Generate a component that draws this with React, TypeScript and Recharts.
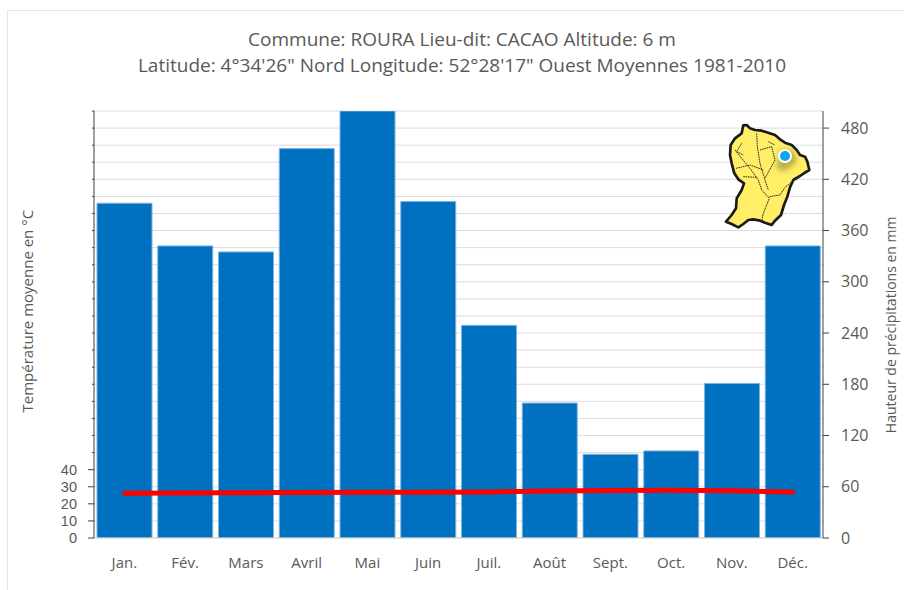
import {
  Bar,
  CartesianGrid,
  ComposedChart,
  Line,
  XAxis,
  YAxis,
} from "recharts";

const mois = ["Jan.", "Fév.", "Mars", "Avril", "Mai", "Juin", "Juil.", "Août", "Sept.", "Oct.", "Nov.", "Déc."];
const precipitations = [392, 342, 335, 456, 500, 394, 249, 158, 98, 102, 181, 342];
const temperatures = [26.2, 26.4, 26.5, 26.7, 26.8, 26.8, 27, 27.5, 27.8, 27.9, 27.6, 26.9];
const ticksTemp = [0, 10, 20, 30, 40, 50, 60, 70, 80, 90, 100, 110, 120, 130, 140, 150, 160, 170, 180, 190, 200, 210, 220, 230, 240, 250];
const ticksPrecip = [0, 60, 120, 180, 240, 300, 360, 420, 480];

const data = mois.map((m, i) => ({
  mois: m,
  precip: precipitations[i],
  temp: temperatures[i],
}));

const FONT = "'Open Sans', sans-serif";
const GRIS = "#595959";

// carte de la Guyane (coordonnees du crop x3)
const contour =
  "M130 76 L140 75 L150 85 L165 90 L185 92 L200 97 L225 105 L240 118 L255 128 L275 135 L290 150 L300 165 L315 170 L322 185 L328 210 L315 218 L300 228 L280 240 L270 262 L262 290 L252 315 L243 345 L225 362 L215 375 L195 368 L180 362 L160 358 L145 360 L130 372 L115 382 L95 372 L78 365 L95 345 L108 325 L110 295 L125 270 L132 250 L115 238 L103 220 L95 190 L90 165 L92 135 L105 115 L125 100 L128 85 Z";
const rivieres = [
  "M105 150 L125 175 L150 205 L175 240 L185 270 L208 295 L190 340 L185 365",
  "M170 100 L172 140 L180 190 L195 240 L205 270",
  "M180 150 L215 140 L225 180 L195 235",
  "M108 205 L150 195 L190 210",
  "M130 230 L170 232",
  "M208 290 L240 285 L255 262 L300 228",
  "M205 125 L225 135",
  "M125 130 L110 155 L130 165",
];

// graduation de gauche : libellee jusqu'a 40, courte au-dessus
function TickTemp({ x, y, payload }: any) {
  const v = payload.value;
  const labelled = v <= 40;
  return (
    <g>
      <line x1={94} x2={labelled ? 88 : 92} y1={y} y2={y} stroke="#404040" />
      {labelled && (
        <text
          x={x - 9}
          y={y}
          dy={5}
          textAnchor="end"
          fill={GRIS}
          fontSize={14.5}
          fontFamily="'Liberation Sans', sans-serif"
        >
          {v}
        </text>
      )}
    </g>
  );
}

function Carte() {
  return (
    <svg
      width={204}
      height={150}
      viewBox="0 0 612 450"
      style={{ position: "absolute", left: 700, top: 100 }}
    >
      <defs>
        <filter id="flou" x="-50%" y="-50%" width="200%" height="200%">
          <feGaussianBlur stdDeviation="8" />
        </filter>
      </defs>
      <path d={contour} fill="#FFEE66" stroke="#1a1a1a" strokeWidth={8} strokeLinejoin="round" />
      <path d="M228 205 L240 150 L280 150 L292 185 L255 214 Z" fill="#A89A3C" opacity={0.75} filter="url(#flou)" />
      {rivieres.map((d) => (
        <path key={d} d={d} fill="none" stroke="#333" strokeWidth={3} strokeDasharray="5 2" />
      ))}
      <circle cx={255} cy={168} r={21} fill="#fff" />
      <circle cx={255} cy={168} r={15} fill="#12A5E8" />
    </svg>
  );
}

export default function App() {
  return (
    <div style={{ position: "absolute", left: 0, top: 0, width: 904, height: 590, fontFamily: FONT, background: "#fff", overflow: "hidden" }}>
      <div style={{ position: "absolute", left: 7, top: 10, right: 0, bottom: 0, borderLeft: "1px solid #e4e4e4", borderTop: "1px solid #e4e4e4" }} />
      <div style={{ position: "absolute", left: 0, width: 924, top: 26, textAlign: "center", color: GRIS, fontSize: 19, lineHeight: "26px" }}>
        <div>Commune: ROURA Lieu-dit: CACAO Altitude: 6 m</div>
        <div>Latitude: 4°34'26" Nord Longitude: 52°28'17" Ouest Moyennes 1981-2010</div>
      </div>
      <ComposedChart
        width={904}
        height={590}
        data={data}
        barCategoryGap={3}
        margin={{ top: 111, right: 20, left: 20, bottom: 12 }}
        style={{ position: "absolute", left: 0, top: 0 }}
      >
        <CartesianGrid yAxisId="temp" vertical={false} stroke="#dcdcdc" strokeWidth={1} />
        <XAxis
          dataKey="mois"
          height={40}
          tickLine={false}
          axisLine={{ stroke: "#d9d9d9", strokeWidth: 1 }}
          tick={{ fill: GRIS, fontSize: 15 }}
          tickMargin={13}
          interval={0}
        />
        <YAxis
          yAxisId="temp"
          width={74}
          domain={[0, 250]}
          ticks={ticksTemp}
          interval={0}
          tick={<TickTemp />}
          tickLine={false}
          tickSize={6}
          axisLine={{ stroke: "#404040", strokeWidth: 1 }}
          label={{
            value: "Température moyenne en °C",
            angle: -90,
            position: "insideLeft",
            offset: 8,
            dy: 88,
            fill: GRIS,
            fontSize: 15,
          }}
        />
        <YAxis
          yAxisId="precip"
          orientation="right"
          width={61}
          domain={[0, 500]}
          ticks={ticksPrecip}
          interval={0}
          allowDataOverflow
          tick={{ fill: GRIS, fontSize: 16 }}
          tickLine={{ stroke: "#404040" }}
          tickSize={6}
          tickMargin={12}
          axisLine={{ stroke: "#404040", strokeWidth: 1 }}
          label={{
            value: "Hauteur de précipitations en mm",
            angle: -90,
            position: "insideRight",
            offset: -7,
            dy: -108,
            fill: GRIS,
            fontSize: 14,
          }}
        />
        <Bar
          yAxisId="precip"
          dataKey="precip"
          fill="#0070C0"
          stroke="#7FB4E0"
          strokeWidth={1}
          isAnimationActive={false}
        />
        <Line
          yAxisId="temp"
          dataKey="temp"
          type="monotone"
          stroke="#FF0000"
          strokeWidth={5}
          strokeLinecap="round"
          dot={false}
          isAnimationActive={false}
        />
      </ComposedChart>
      <Carte />
    </div>
  );
}
